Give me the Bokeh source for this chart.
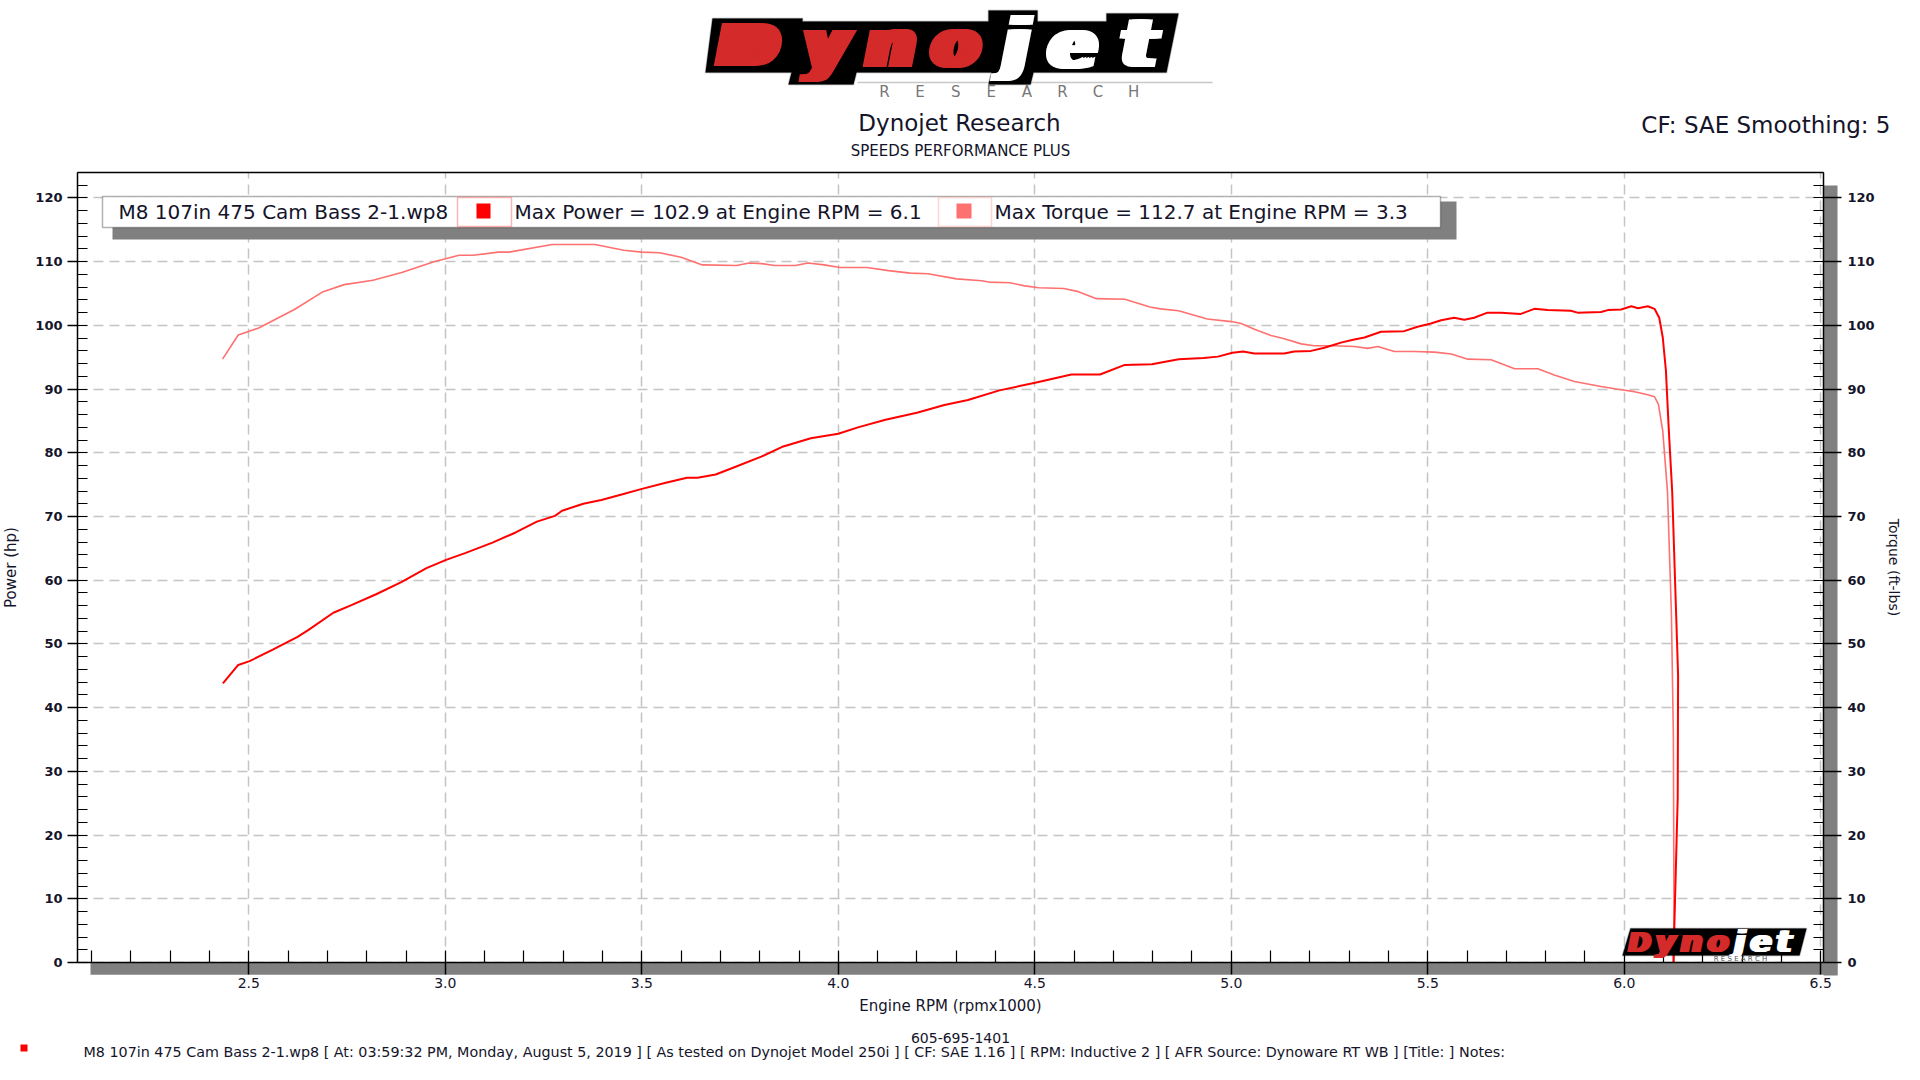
from bokeh.plotting import figure
from bokeh.models import (LinearAxis, SingleIntervalTicker, FixedTicker, Range1d, Label,
                          BoxAnnotation, PolyAnnotation, PrintfTickFormatter)
from bokeh.embed import file_html
from bokeh.resources import INLINE

# ---------------- data ----------------
power_rpm = [2.434, 2.473, 2.502, 2.561, 2.624, 2.652, 2.715, 2.761, 2.824, 2.888,
             2.952, 3.002, 3.052, 3.120, 3.179, 3.233, 3.279, 3.297, 3.351, 3.397,
             3.451, 3.498, 3.561, 3.615, 3.642, 3.688, 3.742, 3.804, 3.860, 3.930,
             4.000, 4.050, 4.120, 4.200, 4.270, 4.330, 4.410, 4.501, 4.593, 4.666,
             4.729, 4.798, 4.866, 4.930, 4.966, 5.003, 5.030, 5.059, 5.135, 5.160,
             5.203, 5.237, 5.279, 5.313, 5.339, 5.381, 5.440, 5.474, 5.508, 5.534,
             5.567, 5.593, 5.618, 5.652, 5.686, 5.737, 5.771, 5.805, 5.864, 5.881,
             5.941, 5.958, 5.992, 6.018, 6.035, 6.060, 6.077, 6.089, 6.098, 6.106,
             6.113, 6.122, 6.132, 6.137, 6.136, 6.125]
power_hp = [43.8, 46.7, 47.3, 49.1, 51.1, 52.2, 54.9, 56.1, 57.8, 59.7,
            61.9, 63.2, 64.3, 65.9, 67.5, 69.2, 70.1, 70.9, 72.0, 72.6,
            73.5, 74.3, 75.3, 76.1, 76.1, 76.6, 77.9, 79.4, 81.0, 82.3,
            83.0, 84.0, 85.2, 86.3, 87.5, 88.3, 89.8, 91.0, 92.3, 92.3,
            93.8, 93.9, 94.7, 94.9, 95.1, 95.7, 95.9, 95.6, 95.6, 95.9,
            96.0, 96.5, 97.3, 97.8, 98.1, 99.0, 99.1, 99.8, 100.3, 100.8,
            101.2, 100.9, 101.2, 102.0, 102.0, 101.8, 102.6, 102.4, 102.3, 102.0,
            102.1, 102.4, 102.5, 103.0, 102.7, 103.0, 102.6, 101.2, 98.1, 92.9,
            84.0, 73.9, 54.7, 45.1, 25.8, 0.0]

torque_rpm = [2.433, 2.473, 2.525, 2.616, 2.689, 2.743, 2.816, 2.889, 2.971, 3.035,
              3.071, 3.135, 3.162, 3.272, 3.381, 3.454, 3.500, 3.545, 3.600, 3.654,
              3.741, 3.773, 3.805, 3.837, 3.891, 3.923, 3.964, 4.005, 4.073, 4.128,
              4.183, 4.228, 4.301, 4.365, 4.383, 4.437, 4.474, 4.510, 4.574, 4.611,
              4.657, 4.729, 4.793, 4.820, 4.866, 4.939, 5.000, 5.025, 5.059, 5.101,
              5.135, 5.178, 5.211, 5.262, 5.313, 5.347, 5.373, 5.415, 5.466, 5.517,
              5.560, 5.602, 5.661, 5.721, 5.780, 5.822, 5.873, 5.941, 5.992, 6.026,
              6.060, 6.077, 6.087, 6.098, 6.110, 6.120, 6.125, 6.127]
torque_ftlb = [94.7, 98.5, 99.6, 102.5, 105.3, 106.4, 107.1, 108.3, 110.0, 111.0,
               111.0, 111.5, 111.5, 112.7, 112.7, 111.8, 111.5, 111.4, 110.7, 109.5,
               109.4, 109.8, 109.7, 109.4, 109.4, 109.8, 109.5, 109.1, 109.1, 108.6,
               108.2, 108.1, 107.3, 107.0, 106.8, 106.7, 106.2, 105.9, 105.8, 105.3,
               104.2, 104.1, 102.9, 102.6, 102.3, 101.0, 100.6, 100.3, 99.4, 98.4,
               97.9, 97.1, 96.8, 96.8, 96.7, 96.4, 96.7, 95.9, 95.9, 95.8,
               95.5, 94.7, 94.6, 93.2, 93.2, 92.2, 91.2, 90.4, 89.9, 89.6,
               89.1, 88.8, 87.6, 83.4, 73.9, 54.7, 35.5, 0.0]

title_text = "Dynojet Research"
subtitle_text = "SPEEDS PERFORMANCE PLUS"
corner_text = "CF: SAE Smoothing: 5"
run_name = "M8 107in 475 Cam Bass 2-1.wp8"
power_legend = "Max Power = 102.9 at Engine RPM = 6.1"
torque_legend = "Max Torque = 112.7 at Engine RPM = 3.3"
footer_text = ("M8 107in 475 Cam Bass 2-1.wp8 [ At: 03:59:32 PM, Monday, August 5, 2019 ] "
               "[ As tested on Dynojet Model 250i ] [ CF: SAE 1.16 ] [ RPM: Inductive 2 ] "
               "[ AFR Source: Dynoware RT WB ] [Title: ]  Notes:")
phone_text = "605-695-1401"
x_label = "Engine RPM (rpmx1000)"
y_label = "Power (hp)"
y2_label = "Torque (ft-lbs)"

# chart box limits (data units)
X_LO, X_HI = 2.064, 6.507
Y_LO, Y_HI = 0.0, 124.0

# ---------------- page geometry ----------------
W, H = 1920, 1080
BOX_L, BOX_R, BOX_T, BOX_B = 77, 1823, 172, 962       # chart box in page px
PXX = (BOX_R - BOX_L) / (X_HI - X_LO)                 # px per rpm unit
PXY = (BOX_B - BOX_T) / (Y_HI - Y_LO)                 # px per hp unit

FONT = "DejaVu Sans"
DARK = "#14142a"
POWER_C = "#ff0000"
TORQUE_C = "#ff7070"
SHADOW = "#808080"
LOGO_RED = "#d42a2a"

# the frame covers the whole canvas; axes are pinned to the chart box
p = figure(width=W, height=H, output_backend="svg", toolbar_location=None,
           x_range=Range1d(X_LO - BOX_L / PXX, X_LO + (W - BOX_L) / PXX),
           y_range=Range1d(Y_LO - (H - BOX_B) / PXY, Y_LO + BOX_B / PXY),
           min_border=0)
p.outline_line_color = None
p.background_fill_color = "white"
p.border_fill_color = "white"


def cbox(l, t, r, b, **kw):
    p.add_layout(BoxAnnotation(left=l, right=r, top=t, bottom=b,
                               left_units="canvas", right_units="canvas",
                               top_units="canvas", bottom_units="canvas", **kw))


def clabel(x, y, text, size, color=DARK, align="left", baseline="middle",
           style="normal", angle=0, font=FONT):
    p.add_layout(Label(x=x, y=y, x_units="canvas", y_units="canvas", text=text,
                       text_font=font, text_font_size=f"{size}px", text_color=color,
                       text_align=align, text_baseline=baseline,
                       text_font_style=style, angle=angle))


def cpoly(xs, ys, color="black"):
    p.add_layout(PolyAnnotation(xs=xs, ys=ys, xs_units="canvas", ys_units="canvas",
                                fill_color=color, fill_alpha=1, line_color=color,
                                line_width=1.5))


# ---------------- axes ----------------
xa = p.xaxis[0]
xa.fixed_location = Y_LO
xa.bounds = (X_LO, X_HI)
xa.ticker = SingleIntervalTicker(interval=0.5, num_minor_ticks=5)
xa.formatter = PrintfTickFormatter(format="%.1f")
xa.major_tick_in = 0
xa.major_tick_out = 12
xa.minor_tick_in = 12
xa.minor_tick_out = 0
xa.major_label_standoff = 3
xa.axis_label = x_label
xa.axis_label_standoff = 6

ya = p.yaxis[0]
ya.fixed_location = X_LO
ya.bounds = (Y_LO, Y_HI)
ya.ticker = SingleIntervalTicker(interval=10, num_minor_ticks=5)
ya.major_tick_in = 0
ya.major_tick_out = 10
ya.minor_tick_in = 10
ya.minor_tick_out = 0
ya.major_label_standoff = 5
ya.axis_label = y_label
ya.axis_label_standoff = 12

ra = LinearAxis(ticker=SingleIntervalTicker(interval=10, num_minor_ticks=5),
                fixed_location=X_HI, bounds=(Y_LO, Y_HI))
ra.major_tick_in = 0
ra.major_tick_out = 18
ra.minor_tick_in = 10
ra.minor_tick_out = 0
ra.major_label_standoff = 6
ra.axis_label = y2_label
ra.axis_label_standoff = 8

top_line = LinearAxis(ticker=FixedTicker(ticks=[]), fixed_location=Y_HI,
                      bounds=(X_LO, X_HI), major_tick_line_color=None,
                      minor_tick_line_color=None, axis_line_color="black",
                      axis_line_width=1.5)

for ax in (xa, ya, ra):
    ax.axis_line_color = "black"
    ax.axis_line_width = 1.5
    ax.major_tick_line_color = "black"
    ax.major_tick_line_width = 1.5
    ax.minor_tick_line_color = "black"
    ax.minor_tick_line_width = 1.2
    ax.major_label_text_font = FONT
    ax.major_label_text_color = DARK
    ax.axis_label_text_font = FONT
    ax.axis_label_text_font_style = "normal"
    ax.axis_label_text_color = DARK

xa.major_label_text_font_size = "14px"
xa.axis_label_text_font_size = "15px"
for ax in (ya, ra):
    ax.major_label_text_font_size = "13px"
    ax.major_label_text_font_style = "bold"
ya.axis_label_text_font_size = "15px"
ra.axis_label_text_font_size = "14px"

# 3D shadow of the chart box: thick tick-less axis lines, painted before the real axes
bottom_shadow = LinearAxis(ticker=FixedTicker(ticks=[]), fixed_location=Y_LO - 6.25 / PXY,
                           bounds=(X_LO + 13 / PXX, X_HI + 14 / PXX),
                           axis_line_color=SHADOW, axis_line_width=12.5,
                           major_tick_line_color=None, minor_tick_line_color=None)
right_shadow = LinearAxis(ticker=FixedTicker(ticks=[]), fixed_location=X_HI + 7 / PXX,
                          bounds=(Y_LO - 12.5 / PXY, Y_HI - 13 / PXY),
                          axis_line_color=SHADOW, axis_line_width=14,
                          major_tick_line_color=None, minor_tick_line_color=None)
p.below = [bottom_shadow, xa]
p.right = [right_shadow, ra]
p.above = [top_line]

p.xgrid.bounds = (X_LO, X_HI)
p.xgrid.cross_bounds = (Y_LO, Y_HI)
p.ygrid.bounds = (Y_LO, Y_HI)
p.ygrid.cross_bounds = (X_LO, X_HI)
p.xgrid.ticker = xa.ticker
p.ygrid.ticker = ya.ticker
for g in (p.xgrid, p.ygrid):
    g.grid_line_color = "#c4c4c4"
    g.grid_line_width = 1.5
    g.grid_line_dash = "10 6"

# ---------------- data curves ----------------
p.line(torque_rpm, torque_ftlb, line_color=TORQUE_C, line_width=1.6)
p.line(power_rpm, power_hp, line_color=POWER_C, line_width=2)

# ---------------- legend bar with shadow ----------------
LL, LT, LR, LB = 102, 196, 1440, 227
cbox(112, 201, 1456, 239, fill_color=SHADOW, fill_alpha=1, line_alpha=0)
cbox(LL, LT, LR, LB, fill_color="white", fill_alpha=1, line_color="black", line_width=1.5)
cbox(457, LT + 1, 511, LB - 1, fill_color="white", fill_alpha=1,
     line_color=POWER_C, line_width=1.5)
cbox(476, 203, 490, 218, fill_color=POWER_C, fill_alpha=1, line_alpha=0)
cbox(938, LT + 1, 991, LB - 1, fill_color="white", fill_alpha=1,
     line_color=TORQUE_C, line_width=1.5)
cbox(956, 203, 971, 218, fill_color=TORQUE_C, fill_alpha=1, line_alpha=0)
clabel(118, 211.5, run_name, 20)
clabel(514, 211.5, power_legend, 20)
clabel(994, 211.5, torque_legend, 20)

# ---------------- header ----------------
cbox(857, 81.3, 1212, 82.8, fill_color="#c8c8c8", fill_alpha=1, line_alpha=0)
cpoly([712, 802, 802, 988, 988, 1037, 1037, 1106, 1106, 1178,
       1166, 1033, 1030, 988, 991, 856, 853, 788, 791, 705],
      [18, 18, 21, 21, 10, 10, 21, 21, 13, 13,
       72, 72, 84, 84, 72, 72, 84, 84, 72, 72])
logo_letters = [("D", 712, 58, 24, LOGO_RED), ("y", 798, 68, 14, LOGO_RED),
                ("n", 860, 68, 14, LOGO_RED), ("o", 926, 68, 14, LOGO_RED),
                ("j", 998, 68, 14, "white"), ("e", 1043, 68, 14, "white"),
                ("t", 1116, 68, 14, "white")]
for ch, x0, fs, sm, col in logo_letters:
    for dx in range(0, sm + 1, 3):
        clabel(x0 + dx, 65 - 0.33 * fs, ch, fs, color=col, style="bold italic")
for i, ch in enumerate("RESEARCH"):
    clabel(884 + i * 35.6, 91, ch, 15, color="#777777", align="center")
clabel(959, 122, title_text, 23, align="center")
clabel(960, 150, subtitle_text, 15, align="center")
clabel(1890, 124, corner_text, 23, align="right")

# ---------------- small logo in the lower right corner ----------------
cpoly([1630, 1806, 1799, 1622], [928, 928, 955, 955])
small_letters = [("D", 1626, 27, LOGO_RED), ("y", 1653, 31, LOGO_RED),
                 ("n", 1678, 31, LOGO_RED), ("o", 1705, 31, LOGO_RED),
                 ("j", 1732, 31, "white"), ("e", 1748, 31, "white"),
                 ("t", 1774, 31, "white")]
for ch, x0, fs, col in small_letters:
    for dx in (0, 2, 4):
        clabel(x0 + dx, 951 - 0.33 * fs, ch, fs, color=col, style="bold italic")
clabel(1740, 958.5, "R E S E A R C H", 7, color="#555555", align="center")

# ---------------- footer ----------------
cbox(20, 1044, 27, 1051, fill_color=POWER_C, fill_alpha=1, line_alpha=0)
clabel(83, 1051, footer_text, 14.3)
clabel(960, 1037, phone_text, 14, align="center")

open("out.html", "w").write(file_html(p, INLINE))
